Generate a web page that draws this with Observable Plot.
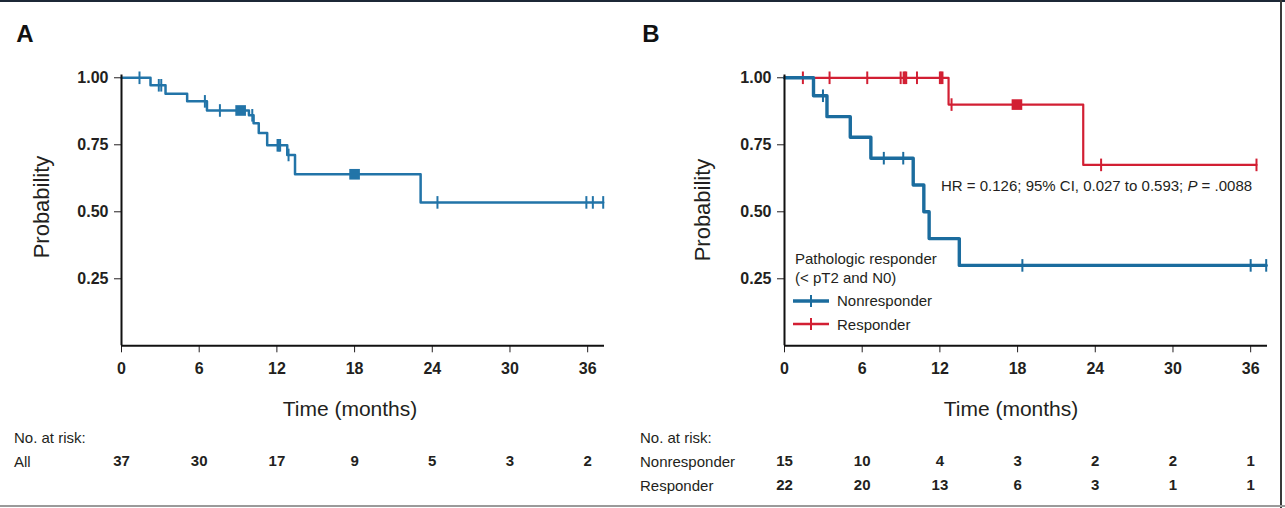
<!DOCTYPE html>
<html><head><meta charset="utf-8">
<script src="https://cdn.jsdelivr.net/npm/d3@7"></script>
<script src="https://cdn.jsdelivr.net/npm/@observablehq/plot@0.6"></script>
<style>
  body { margin: 0; background: #fff; }
  #wrap { position: relative; width: 1285px; height: 508px; overflow: hidden; background: #fff;
          font-family: "Liberation Sans", Arial, Helvetica, sans-serif; color: #231f20; }
  .abs { position: absolute; white-space: nowrap; line-height: 1; }
  .ctr { transform: translate(-50%, -50%); }
  .lft { transform: translate(0, -50%); }
  .rot { transform: translate(-50%, -50%) rotate(-90deg); }
  .plot { position: absolute; }
  .plot svg { overflow: visible; }
  .plot [aria-label="x-axis tick label"] text, .plot [aria-label="y-axis tick label"] text { font-weight: bold; }
</style>
</head><body>
<div id="wrap"></div>
<script>
// ---------- data ----------
const xTicks = [0, 6, 12, 18, 24, 30, 36];
const yTicks = [0.25, 0.50, 0.75, 1.00];
const X_DOMAIN = [0, 37.3];
const Y_DOMAIN = [0, 1.01];

// Panel A (all patients)
const aTimes  = [0, 2.24, 3.4, 5.07, 6.6, 9.84, 10.2, 10.6, 11.25, 12.8, 13.4, 23.1];
const aSurv   = [1.00, 0.972, 0.940, 0.912, 0.878, 0.860, 0.830, 0.794, 0.748, 0.712, 0.640, 0.535];
const aEnd    = 37.2;
const aCensor = [1.39, 2.88, 3.07, 6.44, 7.6, 10.1, 12.05, 12.15, 12.25, 12.9, 24.4, 35.9, 36.4, 37.2];
const aSquare = [9.2, 18.0];

// Panel B nonresponder
const nTimes  = [0, 2.24, 3.28, 5.08, 6.67, 9.94, 10.76, 11.17, 13.5];
const nSurv   = [1.00, 0.933, 0.855, 0.778, 0.700, 0.600, 0.500, 0.400, 0.300];
const nEnd    = 37.2;
const nCensor = [2.97, 7.67, 9.17, 18.37, 36.0, 37.2];

// Panel B responder
const rTimes  = [0, 12.67, 23.07];
const rSurv   = [1.00, 0.900, 0.675];
const rEnd    = 36.45;
const rCensor = [1.42, 3.48, 6.39, 8.97, 9.2, 9.3, 9.4, 10.23, 12.0, 12.1, 12.2, 12.9, 24.45, 36.45];
const rSquare = [17.95];

// Numbers at risk
const riskRowsA = ["All"];
const riskAll = [37, 30, 17, 9, 5, 3, 2];
const riskRowsB = ["Nonresponder", "Responder"];
const riskNon = [15, 10, 4, 3, 2, 2, 1];
const riskResp = [22, 20, 13, 6, 3, 1, 1];

const hrText = "HR = 0.126; 95% CI, 0.027 to 0.593; ";

// ---------- colours ----------
const BLUE_A = "#2274a8";
const BLUE_B = "#1b6c9e";
const RED = "#d21f33";

// ---------- helpers ----------
function kmLine(times, surv, end) {
  return times.map((t, i) => ({t, p: surv[i]})).concat([{t: end, p: surv[surv.length - 1]}]);
}
function levelAt(times, surv, t) {
  let p = surv[0];
  for (let i = 0; i < times.length; i++) if (times[i] <= t) p = surv[i];
  return p;
}
function pts(list, times, surv) { return list.map(t => ({t, p: levelAt(times, surv, t)})); }
const tickSym = { draw(ctx) { ctx.moveTo(0, -6.3); ctx.lineTo(0, 6.3); } };

const FONT = "'Liberation Sans', Arial, Helvetica, sans-serif";
const wrap = document.getElementById("wrap");
function txt(s, x, y, cls, css = "") {
  const d = document.createElement("div");
  d.className = "abs " + cls;
  d.style.cssText = `left:${x}px;top:${y}px;` + css;
  d.innerHTML = s;
  wrap.appendChild(d);
  return d;
}
function place(el, left, top) {
  const d = document.createElement("div");
  d.className = "plot";
  d.style.left = left + "px"; d.style.top = top + "px";
  d.appendChild(el);
  wrap.appendChild(d);
}

function kmPlot({marginLeft, width, series}) {
  const marks = [
    Plot.axisY({ticks: yTicks, tickFormat: d3.format(".2f"), tickSize: 7, tickPadding: 6, fontSize: 16, label: null}),
    Plot.axisX({ticks: xTicks, tickSize: 7, tickPadding: 10, fontSize: 16, label: null}),
  ];
  for (const s of series) {
    marks.push(Plot.line(kmLine(s.times, s.surv, s.end), {x: "t", y: "p", curve: "step-after", stroke: s.color, strokeWidth: s.width}));
    marks.push(Plot.dot(pts(s.censor, s.times, s.surv), {x: "t", y: "p", symbol: tickSym, r: 1, fill: "none", stroke: s.color, strokeWidth: 2}));
    if (s.square) marks.push(Plot.dot(pts(s.square, s.times, s.surv), {x: "t", y: "p", symbol: "square", r: 6, fill: s.color, stroke: "none"}));
  }
  marks.push(Plot.ruleX([0], {stroke: "#111", strokeWidth: 2}));
  marks.push(Plot.ruleY([0], {stroke: "#111", strokeWidth: 2}));
  return Plot.plot({
    width, height: 400,
    marginLeft, marginRight: width - marginLeft - 483, marginTop: 74.6, marginBottom: 54.7,
    x: {domain: X_DOMAIN, label: null},
    y: {domain: Y_DOMAIN, label: null},
    style: {fontFamily: FONT, fontSize: "16px", color: "#231f20", background: "transparent", overflow: "visible"},
    marks
  });
}

function riskPlot({marginLeft, width, rows, data}) {
  return Plot.plot({
    width, height: 88,
    marginLeft, marginRight: width - marginLeft - 483, marginTop: 0, marginBottom: 0,
    x: {domain: X_DOMAIN, axis: null},
    y: {type: "point", domain: rows, range: rows.length > 1 ? [41, 65] : [41, 41], padding: 0, axis: null},
    style: {fontFamily: FONT, fontSize: "15px", color: "#231f20", background: "transparent", overflow: "visible"},
    marks: [
      Plot.text(data, {x: "t", y: "row", text: "n", fontWeight: "bold", fontSize: 15, fill: "#231f20"})
    ]
  });
}

// ---------- Panel A ----------
place(kmPlot({marginLeft: 121, width: 640, series: [
  {times: aTimes, surv: aSurv, end: aEnd, censor: aCensor, square: aSquare, color: BLUE_A, width: 2.5}
]}), 0, 0);

// ---------- Panel B ----------
place(kmPlot({marginLeft: 144, width: 645, series: [
  {times: rTimes, surv: rSurv, end: rEnd, censor: rCensor, square: rSquare, color: RED, width: 2.2},
  {times: nTimes, surv: nSurv, end: nEnd, censor: nCensor, color: BLUE_B, width: 3.4}
]}), 640, 0);

// ---------- risk tables ----------
const riskDataA = riskAll.map((n, i) => ({row: "All", t: xTicks[i], n}));
const riskDataB = riskNon.map((n, i) => ({row: "Nonresponder", t: xTicks[i], n}))
  .concat(riskResp.map((n, i) => ({row: "Responder", t: xTicks[i], n})));
place(riskPlot({marginLeft: 121, width: 640, rows: riskRowsA, data: riskDataA}), 0, 420);
place(riskPlot({marginLeft: 144, width: 645, rows: riskRowsB, data: riskDataB}), 640, 420);

// ---------- texts ----------
txt("A", 25, 33.5, "ctr", "font-size:24px;font-weight:bold;color:#111;");
txt("B", 651, 33.5, "ctr", "font-size:24px;font-weight:bold;color:#111;");
txt("Time (months)", 350, 408, "ctr", "font-size:21px;");
txt("Time (months)", 1011, 408, "ctr", "font-size:21px;");
txt("Probability", 42, 207, "rot", "font-size:22px;");
txt("Probability", 703, 210, "rot", "font-size:22px;");
txt("No. at risk:", 14, 437, "lft", "font-size:15px;");
txt(riskRowsA[0], 14, 461, "lft", "font-size:15px;");
txt("No. at risk:", 640, 437, "lft", "font-size:15px;");
txt(riskRowsB[0], 640, 461, "lft", "font-size:15px;");
txt(riskRowsB[1], 640, 485, "lft", "font-size:15px;");
txt(hrText + "<i>P</i> = .0088", 941, 185, "lft", "font-size:15px;");

// legend
txt("Pathologic responder", 795, 258, "lft", "font-size:15px;");
txt("(&lt; pT2 and N0)", 795, 277, "lft", "font-size:15px;");
function swatch(color, y, w) {
  const s = `<svg width="36" height="14" style="display:block"><line x1="0" x2="36" y1="7" y2="7" stroke="${color}" stroke-width="${w}"/><line x1="18" x2="18" y1="1" y2="13" stroke="${color}" stroke-width="2"/></svg>`;
  txt(s, 793, y, "lft", "");
}
swatch(BLUE_B, 300.5, 3.4);
swatch(RED, 324.3, 2.4);
txt("Nonresponder", 837, 300, "lft", "font-size:15px;");
txt("Responder", 837, 324, "lft", "font-size:15px;");

// frame lines
txt("", 0, 0, "", "width:1285px;height:2px;background:#1c2836;");
txt("", 1280, 0, "", "width:2px;height:508px;background:#3a3a3a;");
txt("", 0, 505, "", "width:1285px;height:2px;background:#9a9a9a;");
</script>
</body></html>
